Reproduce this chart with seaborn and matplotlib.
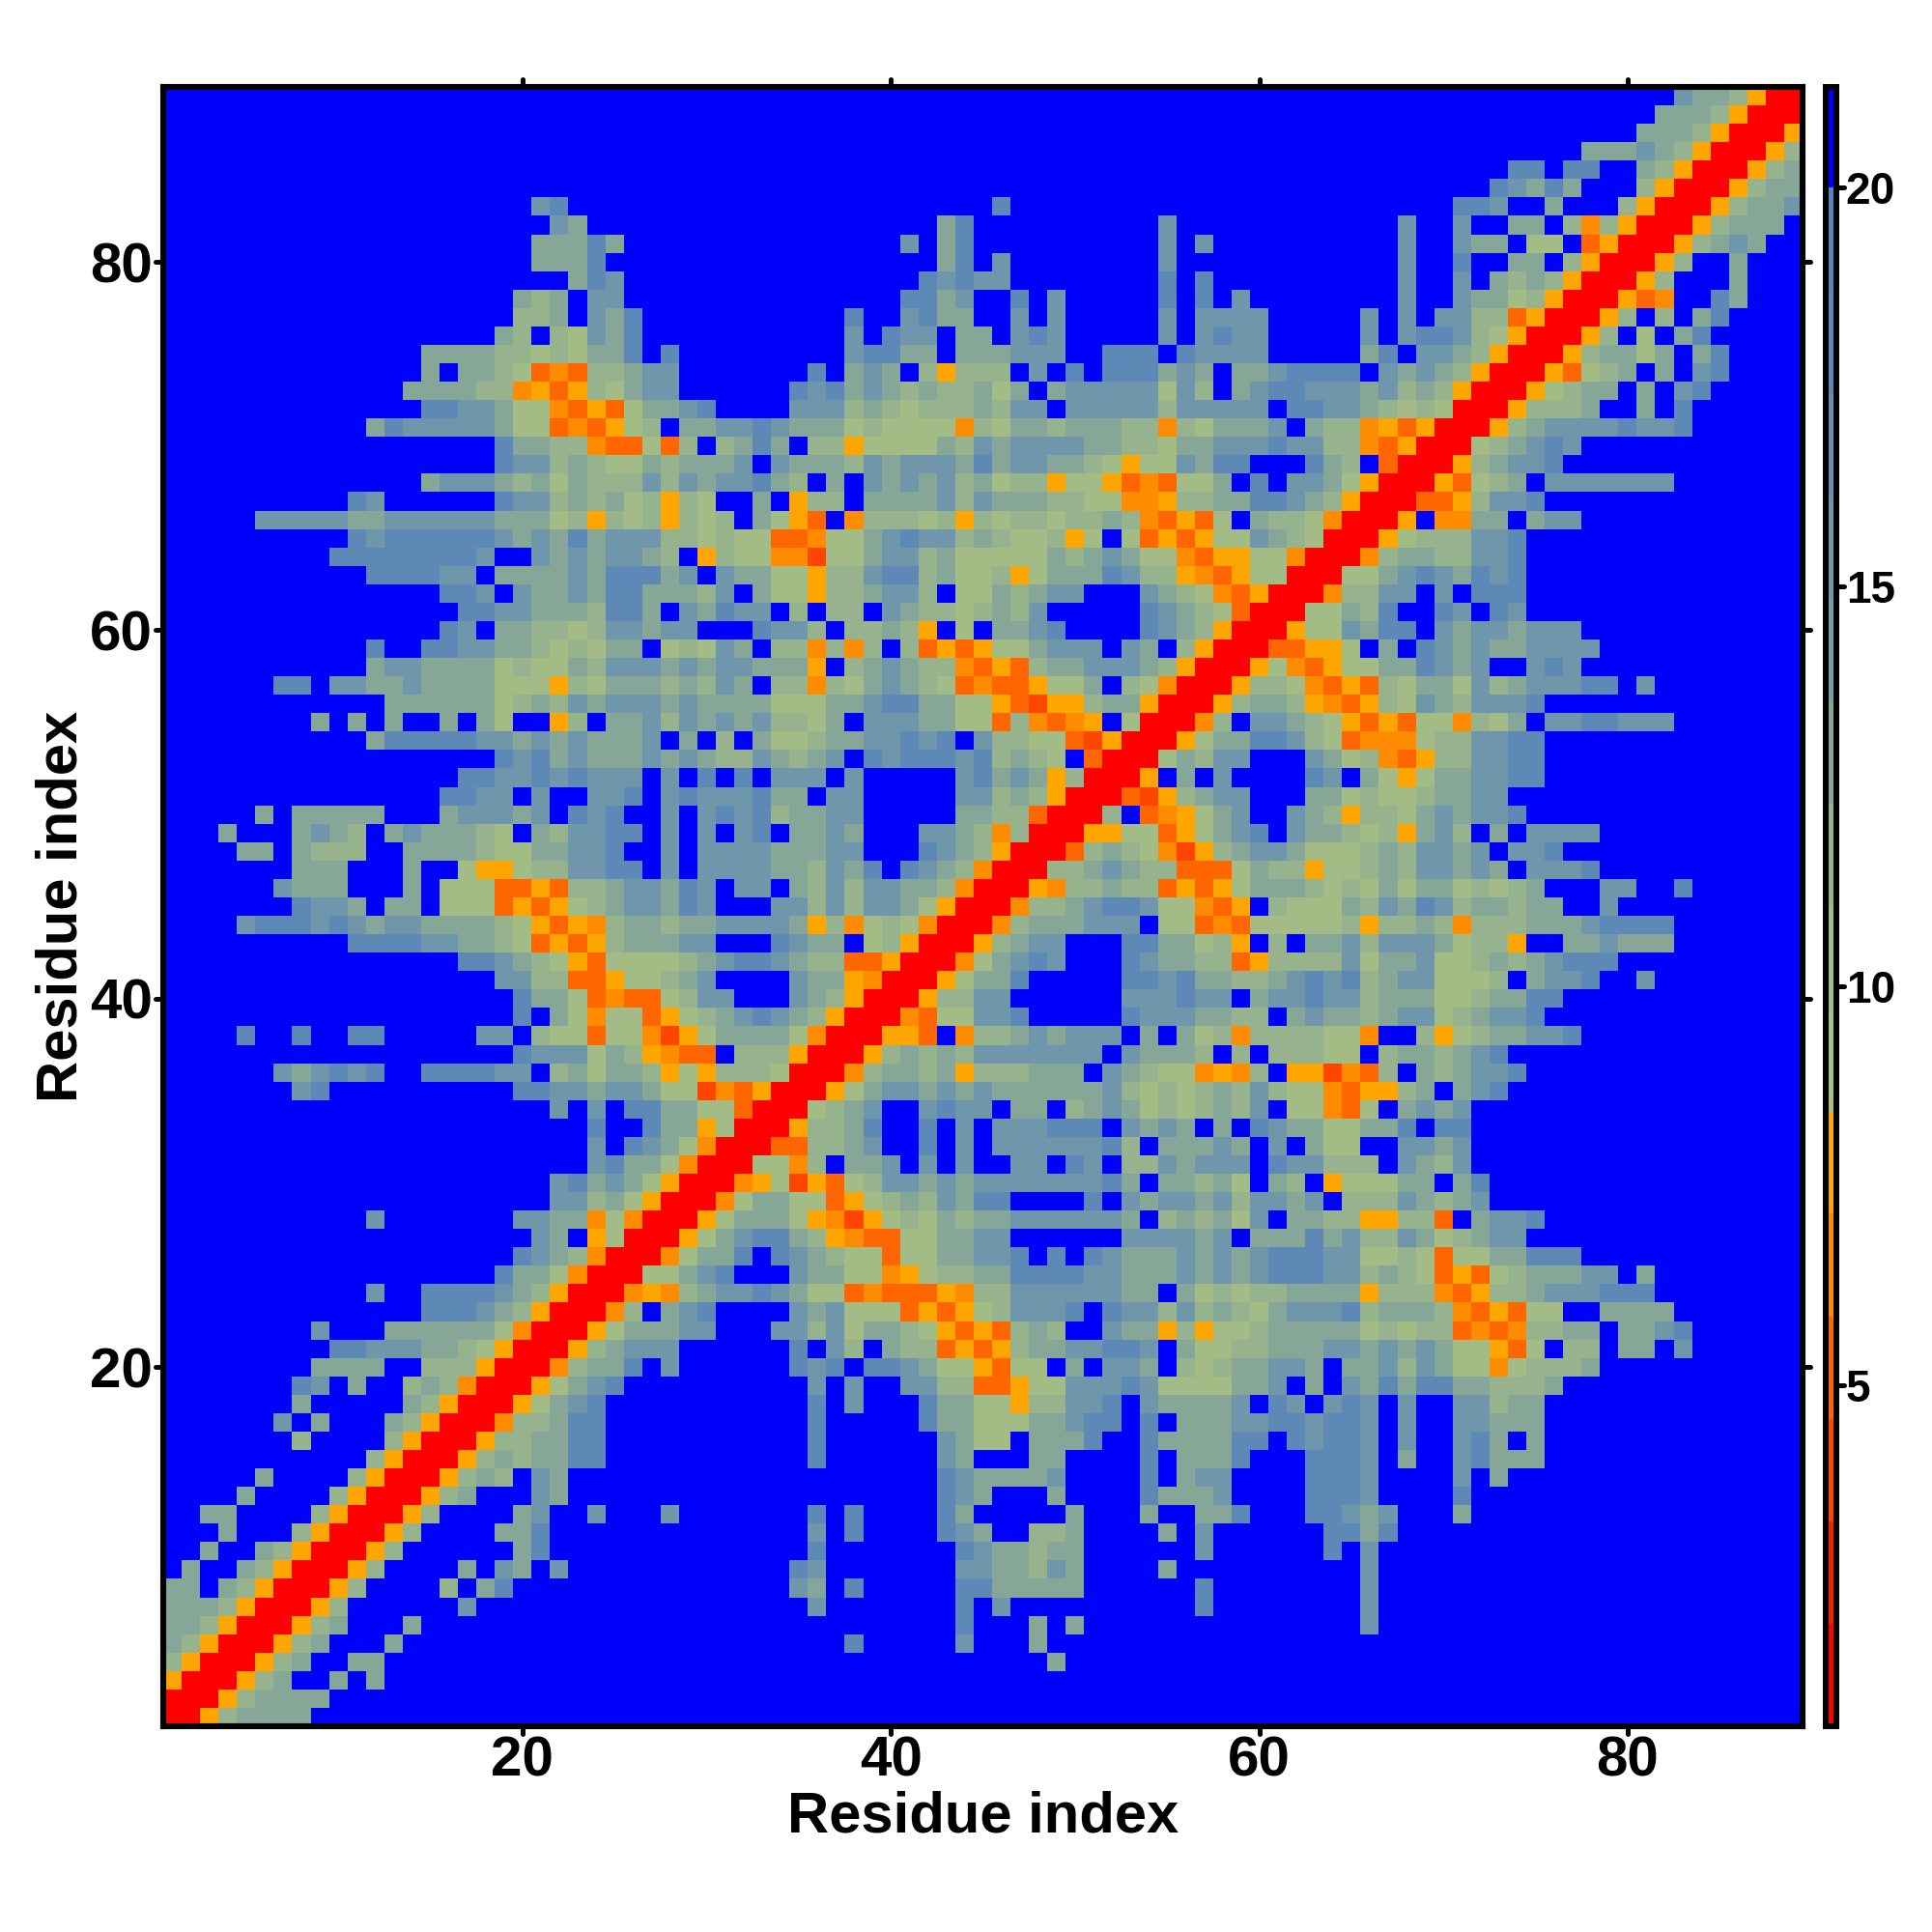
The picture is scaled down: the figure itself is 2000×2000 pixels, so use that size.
import numpy as np
import pandas as pd
import matplotlib
matplotlib.use("Agg")
import matplotlib.pyplot as plt
import matplotlib.markers as mmarkers
from matplotlib.colors import ListedColormap, BoundaryNorm
import seaborn as sns

# Upper-left triangle of the symmetric distance map, read row by row from the top
# (residue 89 first). "col:letters" = starting residue column and one letter per cell.
upper_rows = [
"83:mkkhyRR", "82:kkkhyRR", "81:kkkhyRR", "78:kkkmkhyRR", "74:ss 77:ss 81:khyRR",
"73:smksk 81:hyRR",
"21:ms 46:s 71:ssm 76:k 80:hyRR",
"22:mk 43:ks 55:m 68:m 71:m 74:kk 77:hohyRR",
"21:kkksk 41:m 43:ks 55:m 57:m 68:m 71:mkk 75:gg 78:ryRR",
"21:kkks 43:ks 46:m 55:m 68:m 71:s 74:kk 77:hyRR",
"23:ksm 42:smsmm 55:s 57:s 68:m 71:m 73:khkhyRR",
"20:khk 24:mm 41:sskm 47:s 49:m 55:s 57:s 59:m 68:m 71:mkkghyRR",
"20:hhk 24:mks 38:s 41:mskk 47:m 49:m 55:m 57:mmmm 66:m 68:m 70:mmhhryRR",
"19:kh 22:hgmks 38:m 40:smm 44:kk 47:msm 55:m 57:msmm 66:m 68:mssmhgyRR",
"15:kkkkhhghgkks 28:s 38:msskk 44:kkkmmm 52:sss 56:smmmm 66:ks 69:mmkhyRR",
"15:k 17:kkhgrorhhkmm 36:s 38:kmk 42:hyhhh 48:m 50:s 52:ssskmk 59:kkmssss 67:mkmkhyRR",
"14:kkkkhhoyryhgkmm 35:smskmkhkhhkgk 49:kmmmmmgmh 59:kms 62:smmmkmhkhyRR",
"15:ssmmkggoryrgkkms 35:mmmhkhghhhkhmm 50:mmmmmhmmmmm 62:ssmmkhghgRR",
"12:ksmmmmmkggrorygh 29:kk 31:mmsmkkkghggggohgkkhkkkhhohgkkkm 63:khhoyryRR",
"19:skkhhorrgrh 31:hksk 36:hhyggggkhmkmmmmkkhhgkkmmms 62:mmhhoryRR",
"19:smmhkhggkhkk 31:km 34:mkkkhmkmmmkskmmkkhgyggmkss 63:skh 67:rRR",
"15:kmmmkhkgkhhhmhmk 31:mmskh 37:k 39:mkmkmhkghhyggyrorggk 60:s 62:mmkgyRR",
"11:sm 19:smmhkhkghyhg 33:k 35:yhh 39:kkkkmhmkkkhhggooyhhkkss 62:mkhyRR",
"6:mmmmmkkmmmmmmkkkghyhghyhg 31:h 33:kgyr 38:ohhhghyhghhghhkhoryrg 60:kh 62:hgoRR",
"11:smssssssmkmkskmmmhhg 31:hggrroggkmsmmhkhgghyg 53:gryryggmk 62:hgRR",
"10:ssssssssm 21:mkmkmmkh 30:y 31:hggooxggkmmhkgggggkhkmkggoryyggoRR",
"12:ssssmm 19:kkkkmkssskm 31:mkkggyhhmsshkgghygkkksmhhyoryggRR",
"16:ssm 20:mkkmksskkkh 31:m 33:kggyhhkmmh 44:ggkhkmm 54:mkhgoryRR",
"17:ssmmkkkhssk 29:mk 31:smm 35:h 37:hh 40:mkhhghkhm 54:smkhgrRR",
"16:sm 19:kkhhghmmkmm 33:smmh 38:hhkhy 44:g 46:kkms 54:smkhyRR",
"12:s 15:ssmmkkhghgkk 28:ghg 31:mk 34:hhohoh 41:hryryggkmmm 53:mk 56:hyRR",
"12:kmmkkkkghggkhmmmkmk 31:mmkkky 38:hkmkhhoryrhkkmmmkhyRR",
"7:ss 10:mmkkmkkkkgggyhgkkkhkh 31:mk 34:hhohgkmkhgrorryggk 53:hgoRR",
"13:kkkkkkghkhmkmmmkmk 31:kkkgggkkmsskkggyrxyyhkkyRR",
"9:k 11:k 13:k 16:k 18:kg 22:yh 25:kkmhmk 31:mkmhhgk 39:mmmkkggrhoroy 53:gRR",
"12:ksssssmmkmkmkkkm 29:k 31:h 33:kgghkkmmsms 45:mhhggrxyRR",
"19:smskmkkkmkmk 31:hhmkhkm 39:smsssmshkhg 51:rRR",
"17:ssmmsmsmmm 28:m 30:s 32:s 34:mmm 38:m 44:mskmkyhRR",
"16:ssmm 21:m 24:mms 28:msm 31:mmskk 37:mm 44:mmhkhyRR",
"6:k 8:kkkkk 16:kmmmkm 23:sms 28:m 30:m 31:smshkkmm 44:kkhhrRR",
"4:k 8:kmkh 13:kmkkkhg 21:khmmss 28:m 30:m 32:ms 35:kkmk 42:mmkhohRR",
"5:kk 8:khhh 14:kkkkhggkkmms 28:m 30:m 31:mmmkkkmm 42:smkhyRR",
"8:kkk 14:k 17:gyyghhmmss 28:m 30:m 31:mmmkkhmks 41:smkhoRR",
"7:mkkk 14:k 16:gggrryrhhkmmksm 32:mm 35:khmhmmkkhoRR",
"8:smmk 13:kk 16:gggryryghkmmksm 34:mmhmhmmkgyRR",
"5:msssmsmkmmkkkkhgyryohkkhkk 31:mmmmkyhoghgoRR",
"11:ssssmmkkhgryryhkkkmm 34:smkk 39:ghyRR",
"17:ssmkhgyrgggghk 31:mssmkhhrryRR",
"19:mmhhrrygghkm 35:mkkyoRR",
"20:skkgrorrghmm 35:mkhyRR",
"20:s 22:kgoggryghk 32:msmkhyRR",
"5:s 8:s 11:ss 18:mm 21:hggrggoxyg 31:kkkkgoRR",
"20:smmmgkhyorr 32:hhhyRR",
"7:mkmsms 15:ssssmm 22:hkgkkhygyh 32:hhgRR",
"8:ms 20:ssmmkmmkggxo 32:ryRR",
"22:m 24:m 26:sskkgg 32:rRR",
"24:s 27:skkygRR",
"24:m 26:smkgoRR",
"24:mskkgoRR",
"22:mskmkgyRR",
"22:mmhkgyRR",
"12:m 20:mmkkogoRR",
"21:mk 24:ygRR",
"20:smkhoRR",
"19:skkgoRR",
"12:m 15:ssssmkhyRR",
"15:sssmkhyRR",
"9:m 13:kkkkkkgoRR",
"10:ssmmmkkhgyRR",
"9:kkkk 15:hhhyRR",
"8:sm 11:k 14:hkhoRR",
"8:k 14:khyRR",
"7:m 9:k 13:khyRR",
"8:h 13:hyRR",
"12:hyRR",
"6:k 11:hyRR",
"5:k 10:hyRR",
"3:kk 9:hyRR",
"4:k 8:hyRR",
"3:k 6:khyRR",
"2:k 5:khyRR",
"1:kk 4:khyRR",
"1:kkkhyRR",
"1:kkhyRR",
"1:khyRR",
"1:hyRR",
"1:yRR",
"1:RR",
"1:R",
]

# distance represented by each letter
level_values = {"R": 1.4, "x": 4.0, "r": 5.2, "o": 6.5, "y": 7.8,
                "g": 10.3, "h": 11.8, "k": 13.0, "m": 15.5, "s": 18.0}
blue_value = 21.0

bin_edges = [0.73, 2.01, 3.30, 4.58, 5.86, 7.15, 8.43, 9.71, 11.0, 12.28,
             13.56, 14.85, 16.13, 17.41, 18.70, 20.0, 21.26]
bin_colors = ["#ff0000", "#f52000", "#ff4500", "#ff6600", "#ff8c00", "#ffa500",
              "#a9c080", "#a3bc85", "#97b38d", "#86a798", "#7a9da2",
              "#6f96aa", "#6790b0", "#5e89b6", "#5583bb", "#0000ff"]
axis_ticks = [20, 40, 60, 80]
cbar_ticks = [5, 10, 15, 20]
axis_label = "Residue index"
n = len(upper_rows)

matrix = np.full((n, n), blue_value)
for i, row in enumerate(upper_rows):
    for seg in row.split():
        start, letters = seg.split(":")
        for k, ch in enumerate(letters):
            j = int(start) - 1 + k
            matrix[i, j] = level_values[ch]
            matrix[n - 1 - j, n - 1 - i] = level_values[ch]

frame = pd.DataFrame(matrix, index=range(n, 0, -1), columns=range(1, n + 1))

sns.set_theme(style="white")
plt.rcParams["font.family"] = ["Liberation Sans", "DejaVu Sans"]
plt.rcParams["font.weight"] = "bold"

PX = 2000.0
fig = plt.figure(figsize=(20, 20), dpi=100, facecolor="white")
ax = fig.add_axes([169 / PX, 1 - 1787 / PX, 1697 / PX, 1697 / PX])
cax = fig.add_axes([1890 / PX, 1 - 1787 / PX, 11 / PX, 1697 / PX])

sns.heatmap(frame, ax=ax, cbar_ax=cax, cmap=ListedColormap(bin_colors),
            norm=BoundaryNorm(bin_edges, len(bin_colors)), square=False,
            xticklabels=False, yticklabels=False,
            cbar_kws={"ticks": cbar_ticks, "boundaries": bin_edges, "spacing": "proportional"})

lw = 4.4
for s in ax.spines.values():
    s.set_visible(True)
    s.set_linewidth(lw)
    s.set_color("black")

ax.set_xticks([t - 0.5 for t in axis_ticks])
ax.set_xticklabels([str(t) for t in axis_ticks], rotation=0)
ax.set_yticks([n + 0.5 - t for t in axis_ticks])
ax.set_yticklabels([str(t) for t in axis_ticks], rotation=0)
ax.tick_params(axis="both", which="major", direction="out", length=6, width=3.6, color="black",
               labelsize=42, top=True, right=True, bottom=True, left=True,
               labeltop=False, labelright=False)
ax.tick_params(axis="x", pad=1)
ax.tick_params(axis="y", pad=2)
for t in ax.get_xticklabels() + ax.get_yticklabels():
    t.set_fontweight("bold")
    t.set_color("black")

ax.set_xlabel(axis_label, fontsize=43, fontweight="bold", color="black")
ax.set_ylabel(axis_label, fontsize=43, fontweight="bold", color="black")
ax.xaxis.set_label_coords(0.5, 1 - (1881 - 90) / 1697, transform=ax.transAxes)
ax.xaxis.label.set_va("center")
ax.yaxis.set_label_coords((64 - 169) / 1697, 0.5, transform=ax.transAxes)
ax.yaxis.label.set_va("center")

cbar = ax.collections[0].colorbar
cbar.outline.set_linewidth(4.3)
cbar.outline.set_edgecolor("black")
cbar.ax.minorticks_off()
cbar.ax.tick_params(length=6, width=3.6, color="black", labelsize=33, pad=1, right=True)
for t in cbar.ax.get_yticklabels():
    t.set_fontweight("bold")
    t.set_color("black")

# rounded tick ends
def round_ticks(axis, m1, m2):
    for tick in axis.get_major_ticks():
        tick.tick1line.set_marker(mmarkers.MarkerStyle(m1, capstyle="round"))
        tick.tick2line.set_marker(mmarkers.MarkerStyle(m2, capstyle="round"))

round_ticks(ax.xaxis, mmarkers.TICKDOWN, mmarkers.TICKUP)
round_ticks(ax.yaxis, mmarkers.TICKLEFT, mmarkers.TICKRIGHT)
round_ticks(cbar.ax.yaxis, mmarkers.TICKLEFT, mmarkers.TICKRIGHT)

fig.savefig("out.png", dpi=100, facecolor="white")
